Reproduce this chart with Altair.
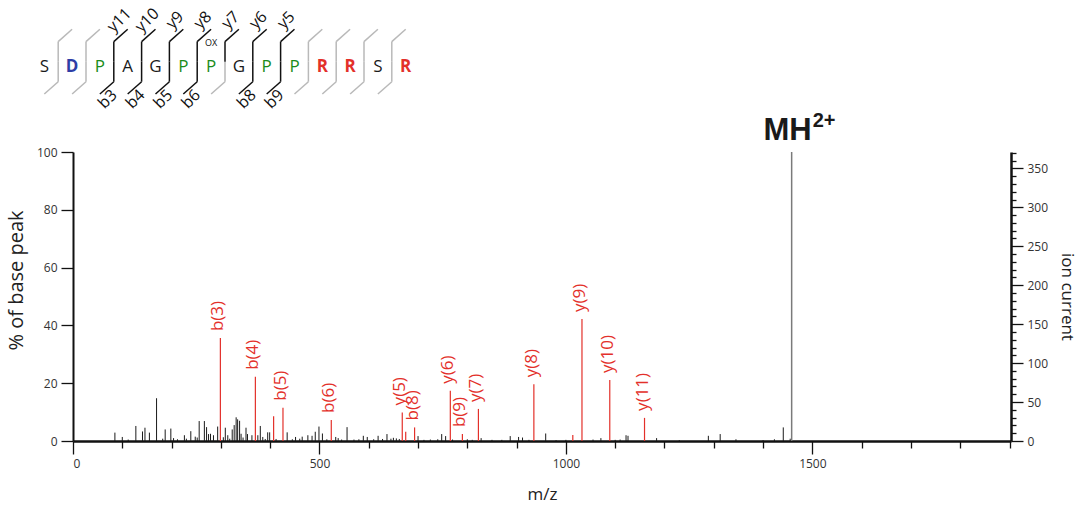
import altair as alt
import pandas as pd

# ---------------- spectrum data ----------------
frag_mz = [299, 370, 426, 524, 668, 693, 765.5, 790, 822.5, 935, 1032.6, 1089, 1159.5]
frag_int = [35.6, 22.2, 11.5, 7.3, 9.9, 4.7, 17.4, 2.4, 11.1, 19.6, 42.2, 21.1, 8.0]
frag_lab = ["b(3)", "b(4)", "b(5)", "b(6)", "y(5)", "b(8)", "y(6)", "b(9)", "y(7)",
            "y(8)", "y(9)", "y(10)", "y(11)"]

extra_red_mz = [407, 675, 1014]
extra_red_int = [8.6, 3.2, 2.1]

other_mz = [85, 100, 112, 127.5, 141, 146, 155, 169.5, 182, 187, 198.5, 204, 212, 226, 230,
            239, 248, 252, 256, 266.5, 271, 275, 279, 285, 293.5, 305, 309, 314, 318, 323,
            327, 331, 334, 338, 341, 345, 351, 354, 363, 375, 380, 385, 390, 395, 399, 412,
            434.5, 445, 451.5, 460, 465, 476.5, 485, 491.5, 499, 506, 515, 533, 538, 545,
            556, 570, 580, 589, 597, 610, 619, 628, 637, 645, 650, 656, 662, 700, 712, 725,
            740, 748, 756, 770, 800, 810, 828, 850, 870, 887, 904, 912, 925, 959, 980, 1000,
            1055, 1071, 1100, 1110, 1122, 1126, 1184, 1230, 1289, 1313, 1345, 1400, 1423,
            1441, 1455]
other_int = [2.9, 1.4, 0.5, 5.2, 3.3, 4.6, 2.9, 14.8, 0.8, 4.0, 4.3, 1.0, 0.6, 2.0, 0.8,
             3.4, 1.5, 1.2, 6.9, 6.9, 4.8, 2.4, 2.5, 2.0, 5.0, 1.3, 4.6, 2.0, 0.8, 4.0,
             5.5, 8.2, 7.5, 7.0, 2.5, 1.2, 4.6, 2.4, 2.0, 2.0, 5.2, 1.4, 0.7, 3.0, 3.0, 0.7,
             3.0, 0.6, 1.4, 0.8, 1.5, 2.0, 1.8, 3.2, 5.0, 2.6, 0.6, 1.4, 1.0, 0.5,
             4.8, 0.5, 0.6, 1.8, 1.4, 0.6, 1.8, 0.7, 2.4, 0.8, 1.1, 0.9, 0.7, 1.7, 0.4, 0.5,
             0.6, 2.4, 1.7, 0.5, 0.6, 0.4, 1.0, 0.4, 0.4, 1.7, 1.4, 1.2, 0.4, 2.6, 0.3, 0.4,
             0.5, 1.0, 0.4, 0.5, 2.0, 1.8, 1.0, 0.3, 1.8, 2.4, 0.6, 0.3, 0.6,
             4.7, 0.8]

precursor_mz = [1458]
precursor_int = [100]
base_peak_current = 371  # ion current at 100 %

# ---------------- sequence data ----------------
residues = list("SDPAGPPGPPRRSR")
b_observed = [3, 4, 5, 6, 8, 9]
y_observed = [5, 6, 7, 8, 9, 10, 11]
oxidised_index = 6

RED = "#e3302a"
FONT = "Open Sans"
LBL = "#333333"

XDOM = [0, 1903]
frag_df = pd.DataFrame({"mz": frag_mz, "pct": frag_int, "label": frag_lab, "zero": 0})
red_df = pd.DataFrame({"mz": frag_mz + extra_red_mz, "pct": frag_int + extra_red_int, "zero": 0})
other_df = pd.DataFrame({"mz": other_mz, "pct": other_int, "zero": 0})
prec_df = pd.DataFrame({"mz": precursor_mz, "pct": precursor_int, "zero": 0,
                        "t1": ["MH"], "t2": ["2+"]})

x_axis = alt.Axis(
    values=list(range(0, 1901, 100)), format="d",
    labelExpr="datum.value % 500 === 0 ? datum.label : ''",
    tickSize={"condition": {"test": "datum.value % 500 === 0", "value": 13}, "value": 7},
    title="m/z", grid=False, domainWidth=2.5, domainColor="#111", tickColor="#111",
    tickWidth=1.3, labelFont=FONT, labelFontSize=12, labelColor=LBL, labelPadding=4,
    titleFont=FONT, titleFontSize=17, titleFontWeight="normal", titleColor="#222",
    titlePadding=17,
)
y_axis = alt.Axis(
    values=list(range(0, 101, 5)), format="d",
    labelExpr="datum.value % 20 === 0 ? datum.label : ''",
    tickSize={"condition": {"test": "datum.value % 20 === 0", "value": 12}, "value": 6},
    title="% of base peak", grid=False, domainWidth=2, domainColor="#111", tickColor="#111",
    tickWidth=1.3, labelFont=FONT, labelFontSize=12, labelColor=LBL, labelPadding=4,
    titleFont=FONT, titleFontSize=20, titleFontWeight="normal", titleColor="#222",
    titlePadding=10, titleY=128,
)
xs = alt.Scale(domain=XDOM, nice=False, zero=False)
ys = alt.Scale(domain=[0, 100], nice=False)

other = alt.Chart(other_df).mark_rule(color="#1a1a1a", strokeWidth=1).encode(
    x=alt.X("mz:Q", scale=xs, axis=x_axis),
    y=alt.Y("pct:Q", scale=ys, axis=y_axis),
    y2="zero:Q",
)
red = alt.Chart(red_df).mark_rule(color=RED, strokeWidth=1.2).encode(
    x="mz:Q", y="pct:Q", y2="zero:Q")
labels = alt.Chart(frag_df).mark_text(
    angle=270, align="left", baseline="middle", dx=7, dy=-2,
    font=FONT, fontSize=17, color=RED,
).encode(x="mz:Q", y="pct:Q", text="label:N")
prec = alt.Chart(prec_df).mark_rule(color="#7a7a7a", strokeWidth=1.5).encode(
    x="mz:Q", y="pct:Q", y2="zero:Q")
mh = alt.Chart(prec_df).mark_text(
    align="right", baseline="alphabetic", dx=20, dy=-12,
    font="Liberation Sans", fontSize=31, fontWeight="bold", color="#1a1a1a",
).encode(x="mz:Q", y="pct:Q", text="t1:N")
mh2 = alt.Chart(prec_df).mark_text(
    align="left", baseline="alphabetic", dx=21, dy=-25,
    font="Liberation Sans", fontSize=20, fontWeight="bold", color="#1a1a1a",
).encode(x="mz:Q", y="pct:Q", text="t2:N")

spectrum = alt.layer(other, red, prec, labels, mh, mh2)

# right axis (ion current)
ion_df = pd.DataFrame({"ion": [0, base_peak_current]})
right = alt.Chart(ion_df).mark_tick(opacity=0).encode(
    y=alt.Y("ion:Q", scale=alt.Scale(domain=[0, base_peak_current], nice=False),
            axis=alt.Axis(
                orient="right", values=list(range(0, 371, 10)), format="d",
                labelExpr="datum.value % 50 === 0 ? datum.label : ''",
                tickSize={"condition": {"test": "datum.value % 50 === 0", "value": 12},
                          "value": 5},
                title="ion current", grid=False, domainWidth=2.5, domainColor="#111",
                tickColor="#111", tickWidth=1.3, labelFont=FONT, labelFontSize=12,
                labelColor=LBL, labelPadding=4, titleFont=FONT, titleFontSize=17,
                titleFontWeight="normal", titleColor="#222", titlePadding=10,
            ))
)

# ---------------- sequence diagram ----------------
n = len(residues)
colors = {"D": "#2e3ea6", "P": "#1a8c1a", "R": RED}
res_df = pd.DataFrame({
    "i": list(range(n)),
    "aa": residues,
    "col": [colors.get(a, "#1a1a1a") for a in residues],
    "bold": [a in ("D", "R") for a in residues],
    "yy": 0.42,
})
GREY = "#b9b9b9"
segs = []
blab = []
ylab = []
for k in range(1, n):
    bx = k - 0.5
    lo = "#111" if k in b_observed else GREY
    up = "#111" if (n - k) in y_observed else GREY
    segs += [
        dict(x=bx - 0.5, y=0.0, x2=bx, y2=0.19, c=lo),
        dict(x=bx, y=0.19, x2=bx, y2=0.5, c=lo),
        dict(x=bx, y=0.5, x2=bx, y2=0.81, c=up),
        dict(x=bx, y=0.81, x2=bx + 0.5, y2=1.0, c=up),
    ]
    if k in b_observed:
        blab.append(dict(x=bx - 0.22, y=-0.08, t=f"b{k}"))
    if (n - k) in y_observed:
        ylab.append(dict(x=bx + 0.2, y=1.14, t=f"y{n - k}"))
seg_df = pd.DataFrame(segs)
blab_df = pd.DataFrame(blab)
ylab_df = pd.DataFrame(ylab)
ox_df = pd.DataFrame({"x": [oxidised_index], "y": [0.79], "t": ["OX"]})

sx = alt.Scale(domain=[0, 13], range=[-28.7, 332.7])
sy = alt.Scale(domain=[0, 1], range=[-58, -122.7])

seg = alt.Chart(seg_df).mark_rule(strokeWidth=1.5).encode(
    x=alt.X("x:Q", scale=sx, axis=None), x2="x2:Q",
    y=alt.Y("y:Q", scale=sy, axis=None), y2="y2:Q",
    color=alt.Color("c:N", scale=None),
)
letters_n = alt.Chart(res_df).transform_filter("!datum.bold").mark_text(
    font=FONT, fontSize=17, baseline="middle").encode(
    x="i:Q", y="yy:Q", text="aa:N", color=alt.Color("col:N", scale=None))
letters_b = alt.Chart(res_df).transform_filter("datum.bold").mark_text(
    font=FONT, fontSize=17, fontWeight="bold", baseline="middle").encode(
    x="i:Q", y="yy:Q", text="aa:N", color=alt.Color("col:N", scale=None))
bl = alt.Chart(blab_df).mark_text(font=FONT, fontSize=16, angle=315, color="#111",
                                  baseline="middle").encode(x="x:Q", y="y:Q", text="t:N")
yl = alt.Chart(ylab_df).mark_text(font=FONT, fontSize=16, angle=315, color="#111",
                                  baseline="middle").encode(x="x:Q", y="y:Q", text="t:N")
ox = alt.Chart(ox_df).mark_text(font=FONT, fontSize=9, color="#111",
                                baseline="middle").encode(x="x:Q", y="y:Q", text="t:N")
sequence = alt.layer(seg, letters_n, letters_b, bl, yl, ox)

chart = alt.layer(spectrum, right, sequence).resolve_scale(
    x="independent", y="independent"
).properties(
    width=938, height=289,
    autosize=alt.AutoSizeParams(type="none"),
    padding={"left": 73, "top": 152, "right": 68, "bottom": 66},
    background="white",
).configure_view(stroke=None)

chart.save("out.html", embed_options={"renderer": "svg", "actions": False})
